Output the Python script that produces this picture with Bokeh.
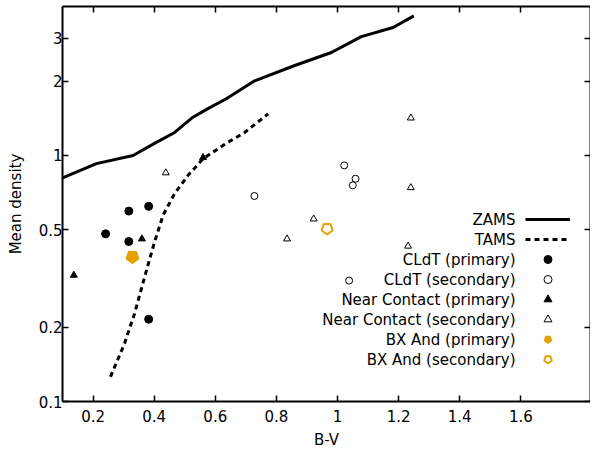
import math
from bokeh.plotting import figure
from bokeh.models import LinearAxis, LogAxis, FixedTicker, Range1d, Legend, LegendItem, Label
from bokeh.embed import file_html
from bokeh.resources import INLINE

# ---- data ----
zams_bv = [0.10, 0.211, 0.331, 0.407, 0.467, 0.527, 0.576, 0.636, 0.729, 0.860, 0.980, 1.078, 1.182, 1.250]
zams_rho = [0.81, 0.926, 1.00, 1.13, 1.24, 1.43, 1.55, 1.70, 2.01, 2.32, 2.62, 3.04, 3.31, 3.69]
tams_bv = [0.257, 0.303, 0.336, 0.369, 0.400, 0.429, 0.467, 0.511, 0.560, 0.631, 0.696, 0.773]
tams_rho = [0.126, 0.172, 0.228, 0.321, 0.44, 0.571, 0.70, 0.83, 0.97, 1.11, 1.24, 1.475]

cldt_p_bv = [0.241, 0.317, 0.382, 0.317, 0.382]
cldt_p_rho = [0.48, 0.594, 0.621, 0.447, 0.216]
cldt_s_bv = [0.728, 1.022, 1.059, 1.050, 1.038]
cldt_s_rho = [0.684, 0.911, 0.804, 0.756, 0.31]
nc_p_bv = [0.137, 0.360, 0.560]
nc_p_rho = [0.326, 0.458, 0.98]
nc_s_bv = [0.438, 0.835, 0.922, 1.231, 1.240, 1.240]
nc_s_rho = [0.85, 0.458, 0.552, 0.428, 0.74, 1.42]
bx_p_bv = [0.329]
bx_p_rho = [0.387]
bx_s_bv = [0.966]
bx_s_rho = [0.504]

legend_labels = ["ZAMS", "TAMS", "CLdT (primary)", "CLdT (secondary)",
                 "Near Contact (primary)", "Near Contact (secondary)",
                 "BX And (primary)", "BX And (secondary)"]

x_ticks = [0.2, 0.4, 0.6, 0.8, 1.0, 1.2, 1.4, 1.6]
x_tick_labels = ["0.2", "0.4", "0.6", "0.8", "1", "1.2", "1.4", "1.6"]
y_ticks = [0.1, 0.2, 0.5, 1.0, 2.0, 3.0]
y_tick_labels = ["0.1", "0.2", "0.5", "1", "2", "3"]

FONT = "DejaVu Sans"
FS = "15px"
ORANGE = "#E69F00"

p = figure(width=590, height=451, output_backend="svg", toolbar_location=None,
           y_axis_type="log", x_range=Range1d(0.1, 1.828), y_range=Range1d(0.1, 4.03),
           x_axis_location=None, y_axis_location=None,
           min_border_left=62, min_border_bottom=49, min_border_top=6, min_border_right=0)
p.outline_line_color = None
p.xgrid.visible = False
p.ygrid.visible = False
p.background_fill_color = "white"
p.border_fill_color = "white"


def style_axis(ax, ticks, labels, show_labels):
    ax.ticker = FixedTicker(ticks=ticks)
    ax.axis_line_width = 2
    ax.axis_line_color = "black"
    ax.major_tick_in = 6
    ax.major_tick_out = 0
    ax.major_tick_line_width = 1.5
    ax.major_tick_line_color = "black"
    ax.minor_tick_line_color = None
    if show_labels:
        ax.major_label_overrides = dict(zip(ticks, labels))
        ax.major_label_text_font = FONT
        ax.major_label_text_font_size = FS
        ax.major_label_text_color = "black"
    else:
        ax.major_label_overrides = {t: "" for t in ticks}
        ax.major_label_text_font_size = "0px"
        ax.major_label_standoff = 0


xb = LinearAxis(axis_label="B-V")
style_axis(xb, x_ticks, x_tick_labels, True)
xb.major_label_standoff = 8
xb.axis_label_standoff = 6
yl = LogAxis(axis_label="Mean density")
style_axis(yl, y_ticks, y_tick_labels, True)
yl.major_label_standoff = 0
yl.axis_label_standoff = 11
for ax in (xb, yl):
    ax.axis_label_text_font = FONT
    ax.axis_label_text_font_size = FS
    ax.axis_label_text_font_style = "normal"
    ax.axis_label_text_color = "black"
xt = LinearAxis()
style_axis(xt, x_ticks, x_tick_labels, False)
yr = LogAxis()
style_axis(yr, y_ticks, y_tick_labels, False)
p.add_layout(xb, "below")
p.add_layout(yl, "left")
p.add_layout(xt, "above")
p.add_layout(yr, "right")

r_zams = p.line(zams_bv, zams_rho, line_color="black", line_width=3)
r_tams = p.line(tams_bv, tams_rho, line_color="black", line_width=3, line_dash="5 4")
r_cp = p.scatter(cldt_p_bv, cldt_p_rho, marker="circle", size=8, fill_color="black", line_color="black")
r_cs = p.scatter(cldt_s_bv, cldt_s_rho, marker="circle", size=7, fill_color=None, line_color="black", line_width=1)
r_np = p.scatter(nc_p_bv, nc_p_rho, marker="triangle", size=7, fill_color="black", line_color="black")
r_ns = p.scatter(nc_s_bv, nc_s_rho, marker="triangle", size=7, fill_color=None, line_color="black", line_width=1)
r_bp = p.ngon(bx_p_bv, bx_p_rho, radius=6.8, radius_units="screen", n=5, angle=math.pi,
              fill_color=ORANGE, line_color=ORANGE, line_width=1)
r_bs = p.ngon(bx_s_bv, bx_s_rho, radius=5.8, radius_units="screen", n=5, angle=math.pi,
              fill_color=None, line_color=ORANGE, line_width=2)

renderers = [r_zams, r_tams, r_cp, r_cs, r_np, r_ns, r_bp, r_bs]
legend = Legend(items=[LegendItem(label=" ", renderers=[r]) for r in renderers],
                location=(463, 32), glyph_width=45, glyph_height=20, label_width=0,
                label_height=20, label_standoff=0, spacing=0, padding=0, margin=0,
                border_line_alpha=0, background_fill_alpha=0, label_text_font_size="1px")
p.add_layout(legend)

for i, txt in enumerate(legend_labels):
    p.add_layout(Label(x=453, y=182 - 20 * i, x_units="screen", y_units="screen", text=txt,
                       text_align="right", text_baseline="middle", text_font=FONT,
                       text_font_size=FS, text_color="black"))

open("out.html", "w").write(file_html(p, INLINE))
